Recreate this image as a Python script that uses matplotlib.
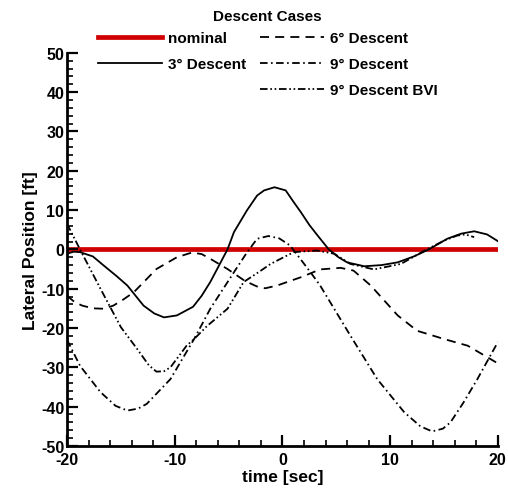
import numpy as np
import matplotlib
matplotlib.use('Agg')
from matplotlib import pyplot as plt
from matplotlib.lines import Line2D
from matplotlib.ticker import MultipleLocator

plt.rcParams['font.family'] = ['Liberation Sans', 'DejaVu Sans']
plt.rcParams['font.weight'] = 'bold'
plt.rcParams['axes.unicode_minus'] = False

# values
t_nominal = [-20, 20]
v_nominal = [0, 0]

t_3deg = [-20, -19.4, -18.8, -17.6, -16.6, -15.4, -14.4, -12.9, -11.9, -11, -9.8,
          -8.3, -7.5, -6.7, -5.1, -4.5, -3.3, -2.35, -1.7, -0.74, 0.3, 1.05, 1.7,
          2.5, 3.3, 4.3, 5.2, 6, 7.6, 9.2, 10.7, 12.2, 13.6, 15.3, 16.6, 17.8,
          19, 20]
v_3deg = [-1.1, -0.6, -0.7, -1.8, -4.1, -6.8, -9.2, -14.3, -16.3, -17.3, -16.8,
          -14.6, -11.8, -8.3, 0, 4.4, 9.9, 13.7, 15.0, 15.8, 15.0, 12.0, 9.5,
          6.2, 3.4, 0, -2.0, -3.3, -4.3, -4.0, -3.3, -1.8, 0, 2.7, 4.0, 4.6,
          3.8, 2.1]

t_6deg = [-20, -19.3, -18.6, -17.6, -16.6, -15.7, -14.8, -13.8, -11.7, -9.8, -8.4,
          -7.5, -6.7, -5.1, -3.5, -2.4, -1.6, -0.5, 1.7, 3.5, 5.4, 6.6, 8.2, 10.7,
          12.5, 15, 17.2, 20]
v_6deg = [-11.8, -13.4, -14.3, -15.0, -15.1, -14.3, -12.8, -10.9, -5, -2, -0.8,
          -1.2, -2.4, -5, -8, -9.4, -9.9, -9.2, -7.1, -5.1, -4.7, -5.4, -9.2,
          -16.8, -20.7, -22.8, -24.5, -29]

t_9deg = [-20, -18.8, -16.9, -15.5, -14.4, -13.4, -12.6, -10.4, -8.2, -6.7, -4.5,
          -3.3, -2.35, -1.3, -0.3, 0.7, 2.6, 3.5, 6.3, 8.8, 11.3, 12.8, 13.9, 14.9,
          15.6, 16.8, 18.1, 20]
v_9deg = [-23, -29.6, -36.3, -39.8, -41, -40.5, -39.3, -33, -22.8, -15.1, -5.8,
          -0.8, 2.7, 3.4, 2.8, 1, -5.8, -9.2, -21.9, -33, -41.4, -45.0, -46.3,
          -45.6, -44, -39.0, -33, -23.6]

t_9bvi = [-20, -18.8, -16.9, -15, -13.5, -12.4, -11.7, -11.0, -10.4, -8.9, -8.2,
          -7, -5.1, -3.6, -2, -1.1, 1.05, 3.2, 4.8, 6.3, 8.5, 11, 13.4, 15.0,
          16.2, 17.0, 17.8]
v_9bvi = [6.5, 0, -10, -19.8, -25.3, -29.5, -31.1, -31.0, -30, -24.5, -22.8,
          -19.5, -15.1, -8.3, -5.4, -3.7, -0.7, -0.3, -1.1, -3.7, -5.1, -3.7, 0,
          2.2, 3.5, 3.8, 3.1]

labels = ['nominal', '3\u00b0 Descent', '6\u00b0 Descent', '9\u00b0 Descent',
          '9\u00b0 Descent BVI']

fig = plt.figure(figsize=(5.08, 4.89), dpi=100)
ax = fig.add_axes([0.132, 0.086, 0.848, 0.804])

lw = 1.3
kw = dict(color='k', lw=lw, solid_joinstyle='round', dash_joinstyle='round')
l0, = ax.plot(t_nominal, v_nominal, color='#d00000', lw=3.4, zorder=1)
l1, = ax.plot(t_3deg, v_3deg, **kw)
l2, = ax.plot(t_6deg, v_6deg, linestyle=(0, (5.0, 3.4)), **kw)
l3, = ax.plot(t_9deg, v_9deg, linestyle=(0, (4.2, 1.9, 0.9, 1.9)), **kw)
l4, = ax.plot(t_9bvi, v_9bvi, linestyle=(0, (4.2, 1.5, 0.9, 1.5, 0.9, 1.5)), **kw)

ax.set_xlim(-20, 20)
ax.set_ylim(-50, 50)
ax.xaxis.set_major_locator(MultipleLocator(10))
ax.xaxis.set_minor_locator(MultipleLocator(2))
ax.yaxis.set_major_locator(MultipleLocator(10))
ax.yaxis.set_minor_locator(MultipleLocator(2))
ax.spines['top'].set_visible(False)
ax.spines['right'].set_visible(False)
ax.spines['left'].set_linewidth(2)
ax.spines['bottom'].set_linewidth(2)
ax.tick_params(which='major', direction='in', length=8, width=1.6,
               labelsize=11.5, pad=2)
ax.tick_params(axis='x', which='major', pad=4)
ax.tick_params(which='minor', direction='in', length=4.5, width=1.2)
for lab in ax.get_xticklabels() + ax.get_yticklabels():
    lab.set_fontweight('bold')

ax.set_xlabel('time [sec]', fontsize=12.5, fontweight='bold', labelpad=2)
ax.set_ylabel('Lateral Position [ft]', fontsize=12.5, fontweight='bold', labelpad=2)

blank = Line2D([], [], color='none')
handles = [l0, l1, blank, l2, l3, l4]
leg_labels = [labels[0], labels[1], '', labels[2], labels[3], labels[4]]
leg = fig.legend(handles, leg_labels, ncol=2, loc='upper center',
                 bbox_to_anchor=(0.527, 0.998), frameon=False,
                 title='Descent Cases', fontsize=11,
                 title_fontproperties={'weight': 'bold', 'size': 11},
                 handlelength=4.2, handletextpad=0.4, columnspacing=0.9,
                 labelspacing=0.78, borderaxespad=0.1, borderpad=0.5)
leg._legend_box.sep = 6
for txt in leg.get_texts():
    txt.set_fontweight('bold')

fig.savefig('out.png', dpi=100)
